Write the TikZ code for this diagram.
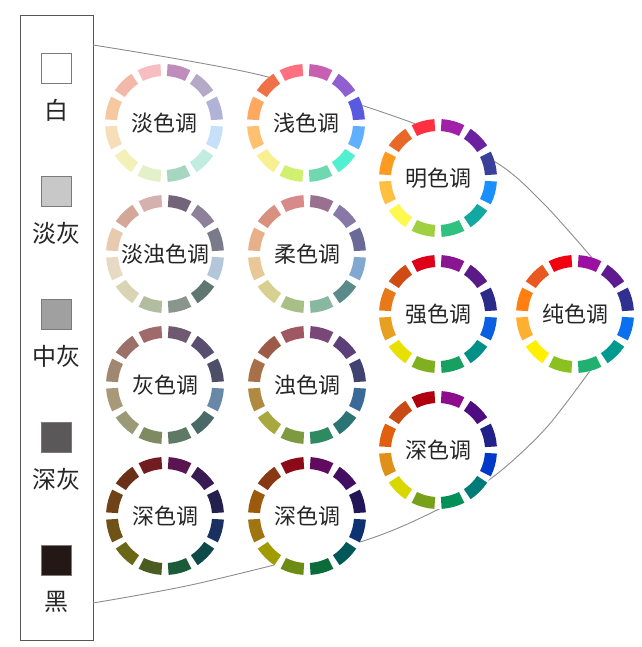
\documentclass[tikz,border=0pt]{standalone}
\usepackage{fontspec}
\setmainfont{Noto Sans CJK SC}
\usetikzlibrary{calc}
\definecolor{txtc}{HTML}{262626}
\definecolor{sqedge}{HTML}{7A7A7A}
\definecolor{curvec}{HTML}{8C8C8C}
\definecolor{boxc}{HTML}{555555}
\definecolor{gwhite}{HTML}{FFFFFF}
\definecolor{glight}{HTML}{C8C8C8}
\definecolor{gmid}{HTML}{A0A0A0}
\definecolor{gdeep}{HTML}{5A5858}
\definecolor{gblack}{HTML}{231815}
\tikzset{
  lbl/.style={font=\fontsize{22}{24}\selectfont, text=txtc},
  leftlbl/.style={font=\fontsize{24}{26}\selectfont, text=txtc, inner sep=0pt},
  ringbg/.style={circle, fill=white, minimum size=118pt, inner sep=0pt},
  grayq/.style={draw=sqedge, line width=0.8pt, minimum size=30pt, inner sep=0pt},
  conn/.style={draw=curvec, line width=0.9pt},
  graybox/.style={draw=boxc, line width=0.8pt, minimum width=73pt, minimum height=625pt, inner sep=0pt},
}
\newcommand\tonering[4]{%
  \node[ringbg, lbl] (#1) at (#2) {#3};
  \foreach \segcol [count=\segidx from 0] in {#4} {
    \definecolor{segc}{HTML}{\segcol}
    \pgfmathsetmacro\angA{120-30*\segidx-3.5}
    \pgfmathsetmacro\angB{90-30*\segidx+3.5}
    \fill[segc] ($(#1.center)+(\angA:59pt)$) arc[start angle=\angA, end angle=\angB, radius=59pt]
      -- ($(#1.center)+(\angB:47pt)$) arc[start angle=\angB, end angle=\angA, radius=47pt] -- cycle;
  }
}
\begin{document}
\begin{tikzpicture}[x=1pt, y=1pt]
\useasboundingbox (0,0) rectangle (641,647);
% left gray scale box
\node[graybox] (box) at (56.5,319.5) {};
\node[grayq, fill=gwhite] (sw) at (56,579) {};
\node[leftlbl] (lw) at (56,537) {白};
\node[grayq, fill=glight] (slg) at (56,456) {};
\node[leftlbl] (llg) at (56,414) {淡灰};
\node[grayq, fill=gmid] (smg) at (56,333) {};
\node[leftlbl] (lmg) at (56,291) {中灰};
\node[grayq, fill=gdeep] (sdg) at (56,210) {};
\node[leftlbl] (ldg) at (56,168) {深灰};
\node[grayq, fill=gblack] (sbk) at (56,87) {};
\node[leftlbl] (lbk) at (56,45) {黑};
% envelope curves
\coordinate (t0) at (93,602);
\coordinate (t1) at (260,572);
\coordinate (t2) at (413,524);
\coordinate (t3) at (497,484);
\coordinate (t4) at (545,442);
\coordinate (t5) at (600,380);
\coordinate (b0) at (93,44);
\coordinate (b1) at (200,64);
\coordinate (b2) at (360,105);
\coordinate (b3) at (437,137);
\coordinate (b4) at (493,170);
\coordinate (b5) at (547,220);
\coordinate (b6) at (600,290);
\draw[conn] plot[smooth] coordinates {(t0) (t1) (t2) (t3) (t4) (t5)};
\draw[conn] plot[smooth] coordinates {(b0) (b1) (b2) (b3) (b4) (b5) (b6)};
% rings
\tonering{pale}{164,524}{淡色调}{F7BEC2,C08CBC,B4A9C6,B0B2D8,C5E0F8,C0EDE0,A6D5C0,E4F0C8,F3F0B8,F5DEB8,F5C8A0,F2B8A8}
\tonering{ltg}{165,393}{淡浊色调}{D4B0AE,74647A,8E8098,7A7A8A,B4C6DA,607670,8A968C,B2BC9E,D8D4B4,E8DAC2,E8CAAE,D4A898}
\tonering{gry}{165,262}{灰色调}{A06A6A,6E5A70,5A4E70,4E4E68,6888A8,4A6A68,5E7A66,7E8A60,9A9A78,A89A78,A08870,9A7068}
\tonering{dkg}{165,131}{深色调}{701C20,5A1452,3A1A52,24204E,1A3060,0E4A4A,1A5C3A,4A5C20,6A6818,6E5218,704218,6A3018}
\tonering{lgt}{306,524}{浅色调}{FF7080,C860B0,9060D0,5A5AE0,60B0FF,50F0D0,70D8B0,D0F070,F8F090,FFC070,FFA860,F07048}
\tonering{sft}{307,393}{柔色调}{D88A8A,9A7090,8878A8,6A6A98,80A8D0,5A8A8A,88B8A0,A8C088,D8D090,E8C898,E8B088,D89080}
\tonering{dul}{307,262}{浊色调}{A05860,7A4878,5C3E78,404272,3A6A98,2A7474,2E8A60,7E9A40,A8A840,B08A40,A87048,9E5A48}
\tonering{dk2}{307,131}{深色调}{8C0A18,600A60,420E62,221658,0C3272,005858,0A6C3A,6C8C14,A09C00,A07410,9C5A0C,883812}
\tonering{brt}{438,469}{明色调}{FF3040,A020A8,6A22A0,3A409A,1A90FF,10A8A0,30C080,A0D040,FFF850,FFC040,FF9A20,E86828}
\tonering{str}{438,333}{强色调}{DD0018,8A1590,5A1A88,2A2A88,0A60E0,009088,18A060,80B020,E8E000,E8A020,E87818,D04C14}
\tonering{dep}{438,197}{深色调}{B00010,8C0C8C,4E0C80,22208A,0038C8,007C78,009058,78A018,D8D800,E09018,E06010,C84A14}
\tonering{vid}{575,333}{纯色调}{F00010,9A10A0,601A90,303090,0A70F0,009A90,20B070,8AC020,FFF000,FFB030,FF8010,E85820}
\end{tikzpicture}
\end{document}
